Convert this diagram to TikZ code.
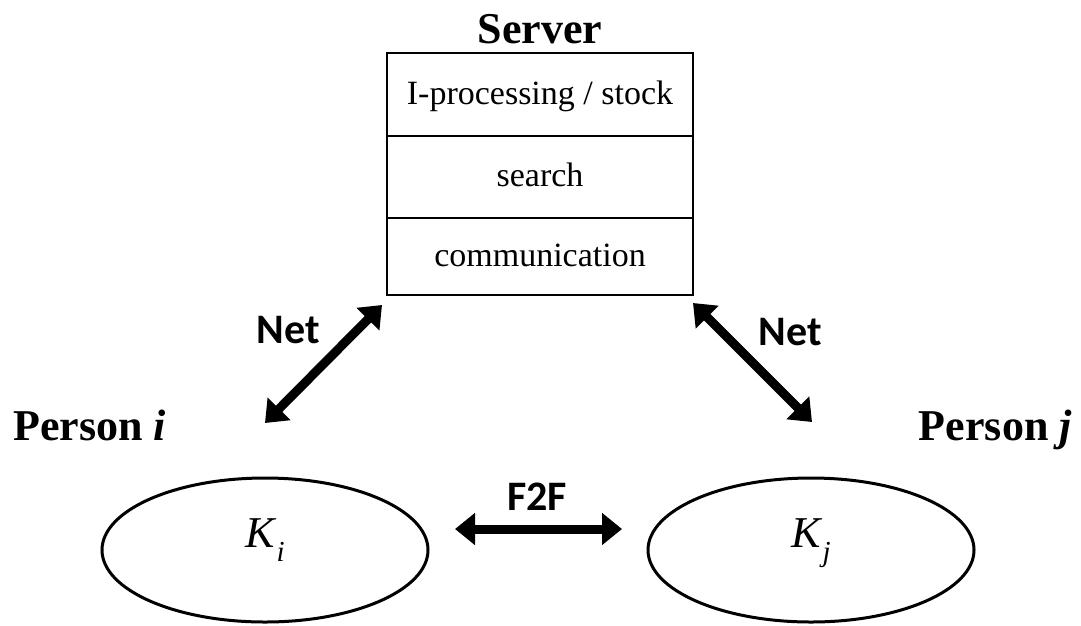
\documentclass[tikz,border=0pt]{standalone}
\usepackage{fontspec}
\setmainfont{Liberation Serif}
\newfontfamily\calib{Carlito}
\usetikzlibrary{shapes.geometric,arrows.meta}
\begin{document}
\begin{tikzpicture}[x=1pt,y=-1pt,
  row/.style={draw,line width=2.6pt,minimum width=306pt,inner sep=0pt,
    font=\fontsize{34}{40}\selectfont,text height=28pt,text depth=9pt},
  person/.style={draw,ellipse,line width=3pt,minimum width=326pt,minimum height=144pt,inner sep=0pt},
  title/.style={font=\fontsize{44}{50}\selectfont\bfseries,inner sep=0pt},
  lbl/.style={font=\fontsize{42}{46}\selectfont\calib\bfseries,inner sep=0pt,anchor=base},
  kval/.style={font=\fontsize{44}{50}\selectfont,inner sep=0pt,anchor=base},
  bigarrow/.style={line width=9pt,{Triangle[length=20pt,width=31pt]}-{Triangle[length=20pt,width=31pt]}}
]
\useasboundingbox (0,0) rectangle (1081,625);
% server
\node[title,anchor=base] (srv) at (540,43) {Server};
\node[row,minimum height=83pt] (r1) at (540,94.5) {I-processing / stock};
\node[row,minimum height=82pt] (r2) at (540,177) {search};
\node[row,minimum height=77pt] (r3) at (540,256.5) {communication};
% persons
\node[person] (pi) at (265,550) {};
\node[person] (pj) at (811,550) {};
\node[kval] (ki) at (265,547) {\textit{K}\raisebox{-0.32em}{\fontsize{29}{32}\selectfont\itshape i}};
\node[kval] (kj) at (811,547) {\textit{K}\raisebox{-0.32em}{\fontsize{29}{32}\selectfont\itshape j}};
\node[title,anchor=base west] (pli) at (13,440) {Person \textit{i}};
\node[title,anchor=base east] (plj) at (1072,440) {Person \textit{j}};
% labels
\node[lbl] (net1) at (288,343) {Net};
\node[lbl] (net2) at (790,345) {Net};
\node[lbl] (f2f) at (537,510) {F2F};
% arrow ends
\coordinate (a1) at (265,423);
\coordinate (a2) at (382,305);
\coordinate (b1) at (693,303);
\coordinate (b2) at (812,422);
\coordinate (c1) at (455,529);
\coordinate (c2) at (622,529);
\draw[bigarrow] (a1) -- (a2);
\draw[bigarrow] (b1) -- (b2);
\draw[bigarrow] (c1) -- (c2);
\end{tikzpicture}
\end{document}
